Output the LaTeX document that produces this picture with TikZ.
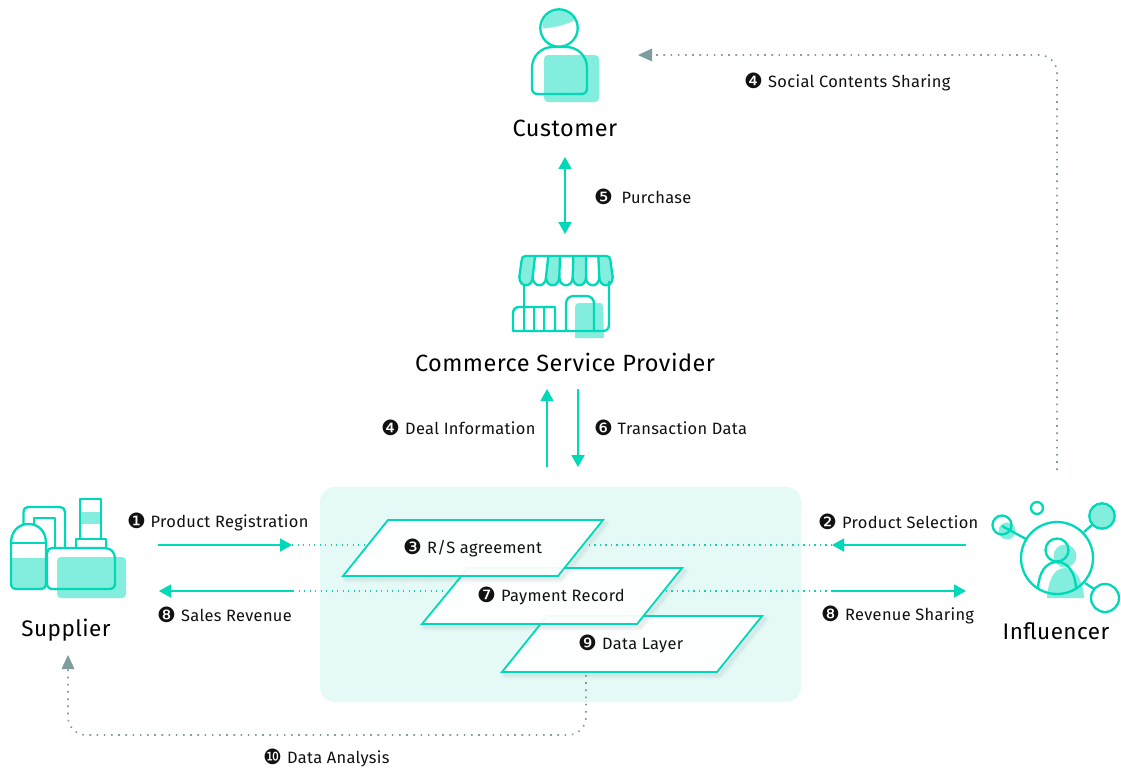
\documentclass[tikz,border=0pt]{standalone}
\usepackage{fontspec}
\setmainfont{Fira Sans}[LetterSpace=2]
\newfontfamily\dv{DejaVu Sans}
\usetikzlibrary{arrows.meta}
\definecolor{teal}{HTML}{00D9B8}
\definecolor{soft}{HTML}{84EEDE}
\definecolor{pale}{HTML}{E5FAF7}
\definecolor{gr}{HTML}{7E9E9E}
\definecolor{ink}{HTML}{111111}
\newcommand{\nm}[2][23]{\makebox[#1pt][l]{\hspace{-1pt}\dv\fontsize{21}{21}\selectfont\raisebox{-1pt}{#2}}}
\tikzset{
 x=1pt,y=-1pt,
 ico/.style={draw=teal,line width=2.3pt,line join=round},
 softf/.style={fill=soft,draw=none},
 lab/.style={anchor=west,inner sep=0pt,text=ink,font=\fontsize{16.4}{16.4}\selectfont},
 ttl/.style={inner sep=0pt,text=black,font=\fontsize{23.5}{23.5}\selectfont},
 ttls/.style={ttl,font=\fontsize{22.5}{22.5}\selectfont},
 flow/.style={draw=teal,line width=1.8pt},
 tip/.style={-{Triangle[length=12pt,width=13pt,fill=teal]}},
 tipb/.style={{Triangle[length=12pt,width=13pt,fill=teal]}-{Triangle[length=12pt,width=13pt,fill=teal]}},
 tdot/.style={draw=teal!80!gr,line width=1.1pt,dash pattern=on 1.1pt off 4.4pt},
 gdot/.style={draw=gr,line width=1.6pt,dash pattern=on 1.6pt off 5.6pt,rounded corners=18pt},
 gtip/.style={fill=gr,draw=none},
 plane/.style={draw=teal,line width=1.8pt,fill=white,fill opacity=.93,line join=miter},
}
\newcommand{\shad}[4]{%
 \foreach \w/\o in {8/.03,6/.04,4/.05,2/.06}{
  \draw[line width=\w pt,draw=gr,opacity=\o,line join=round,xshift=3pt,yshift=-3pt] #1 -- #2 -- #3 -- #4 -- cycle;}}
\begin{document}
\begin{tikzpicture}
\useasboundingbox (0,0) rectangle (1121,769);
\fill[white] (0,0) rectangle (1121,769);
\fill[pale,rounded corners=15pt] (320,487) rectangle (801,702);

% free ends of the connectors
\coordinate (c1) at (565,157); \coordinate (c2) at (565,234);
\coordinate (d1) at (547,467); \coordinate (d2) at (547,389);
\coordinate (t1) at (578,389); \coordinate (t2) at (578,467);
\coordinate (r1) at (158,545); \coordinate (r2) at (292,545); \coordinate (r3) at (365,545);
\coordinate (s1) at (966,545); \coordinate (s2) at (832,545); \coordinate (s3) at (588,545);
\coordinate (v1) at (293,591); \coordinate (v2) at (159,591); \coordinate (v3) at (445,591);
\coordinate (w1) at (832,591); \coordinate (w2) at (966,591); \coordinate (w3) at (665,591);
\coordinate (i1) at (1057,470); \coordinate (i2) at (1057,55); \coordinate (i3) at (652,55);
\coordinate (a1) at (586,675); \coordinate (a2) at (586,735); \coordinate (a3) at (68,735); \coordinate (a4) at (68,669);

% dotted lines
\draw[tdot] (r2) -- (r3);
\draw[tdot] (s2) -- (s3);
\draw[tdot] (v1) -- (v3);
\draw[tdot] (w1) -- (w3);
\draw[gdot] (i1) -- (i2) -- (i3);
\fill[gtip] (638,55) -- (652,48.5) -- (652,61.5) -- cycle;
\draw[gdot] (a1) -- (a2) -- (a3) -- (a4);
\fill[gtip] (68,655) -- (61.5,669) -- (74.5,669) -- cycle;

% solid arrows
\draw[flow,tipb] (c1) -- (c2);
\draw[flow,tip] (d1) -- (d2);
\draw[flow,tip] (t1) -- (t2);
\draw[flow,tip] (r1) -- (r2);
\draw[flow,tip] (s1) -- (s2);
\draw[flow,tip] (v1) -- (v2);
\draw[flow,tip] (w1) -- (w2);

% planes
\shad{(547,616)}{(762,616)}{(717,672)}{(502,672)}
\draw[plane] (547,616) -- (762,616) -- (717,672) -- (502,672) -- cycle;
\shad{(468,568)}{(682,568)}{(637,624)}{(422,624)}
\draw[plane] (468,568) -- (682,568) -- (637,624) -- (422,624) -- cycle;
\shad{(388,520)}{(603,520)}{(558,576)}{(343,576)}
\draw[plane] (388,520) -- (603,520) -- (558,576) -- (343,576) -- cycle;
\node[lab] (p1) at (404,547.5) {\nm{❸}R/S agreement};
\node[lab] (p2) at (478,595.5) {\nm{❼}Payment Record};
\node[lab] (p3) at (579,643.5) {\nm{❾}Data Layer};

% customer icon
\fill[softf,rounded corners=4pt] (544,55) rectangle (599,102);
\fill[soft] (542.6,28.5) .. controls (541,18) and (549,9.5) .. (559,9.3) .. controls (566,9.3) and (572,13) .. (574.5,20) .. controls (566,25) and (555,27.5) .. (542.6,28.5) -- cycle;
\draw[ico] (559,28) circle (18.7);
\draw[ico] (553,47) -- (566,47) .. controls (578,47) and (587,56) .. (587,68) -- (587,88) .. controls (587,92) and (585,94) .. (581,94) -- (538,94) .. controls (534,94) and (532,92) .. (532,88) -- (532,68) .. controls (532,56) and (541,47) .. (553,47) -- cycle;

% store icon
\fill[softf] (575,338) -- (575,307) .. controls (575,304.5) and (576.5,303) .. (579,303) -- (600,303) .. controls (602,303) and (603,304.5) .. (603,307) -- (604,338) -- cycle;
\foreach \a/\b/\c/\d in {521.7/535/532.7/519.3,548.3/560/559.3/546,573.3/586/586/572.7,598.3/610/612.7/599.3}{
 \fill[soft] (\a,256) -- (\b,256) -- (\c,277) .. controls (\c,288) and (\d,288) .. (\d,277) -- cycle;}
\draw[ico] (524,284) -- (524,331);
\draw[ico] (609,281) -- (609,324) .. controls (609,329) and (607,331) .. (602,331) -- (513,331) -- (513,314) .. controls (513,309) and (515,307) .. (520,307) -- (555,307) -- (555,331);
\draw[ico] (534,307) -- (534,331) (544,307) -- (544,331);
\draw[ico] (566,331) -- (566,304) .. controls (566,299) and (569,296) .. (574,296) -- (586,296) .. controls (591,296) and (594,299) .. (594,304) -- (594,331);
\draw[ico] (519.3,277) -- (521.7,260) .. controls (522,257) and (523,256) .. (526,256) -- (606,256) .. controls (609,256) and (610,257) .. (610.3,260) -- (612.7,277)
 .. controls (612.7,288) and (599.3,288) .. (599.3,277)
 .. controls (599.3,288) and (586,288) .. (586,277)
 .. controls (586,288) and (572.7,288) .. (572.7,277)
 .. controls (572.7,288) and (559.3,288) .. (559.3,277)
 .. controls (559.3,288) and (546,288) .. (546,277)
 .. controls (546,288) and (532.7,288) .. (532.7,277)
 .. controls (532.7,288) and (519.3,288) .. (519.3,277) -- cycle;
\draw[ico] (535,256) -- (532.7,277) (548.3,256) -- (546,277) (560,256) -- (559.3,277) (573.3,256) -- (572.7,277) (586,256) -- (586,277) (598.3,256) -- (599.3,277);

% supplier icon
\fill[softf,rounded corners=4pt] (57,557) rectangle (126,598);
\fill[softf] (11,558) rectangle (46,586);
\fill[softf] (14,586) rectangle (44,589);
\fill[softf] (81,512) rectangle (100,524);
\draw[ico] (11,543) -- (46,543);
\draw[ico] (11,543) .. controls (11,532) and (18,524) .. (28.5,524) .. controls (39,524) and (46,532) .. (46,543) -- (46,583) .. controls (46,587) and (44,589) .. (40,589) -- (17,589) .. controls (13,589) and (11,587) .. (11,583) -- cycle;
\draw[ico] (47,553) .. controls (47,550) and (49,548) .. (52,548) -- (104,548) .. controls (111,548) and (115,552) .. (115,559) -- (115,583) .. controls (115,587) and (113,589) .. (109,589) -- (53,589) .. controls (49,589) and (47,587) .. (47,583) -- cycle;
\draw[ico] (80,539) -- (80,499) -- (101,499) -- (101,539);
\draw[ico] (76,548) -- (76,539) -- (106,539) -- (106,548);
\draw[ico] (23.5,525) -- (23.5,512) .. controls (23.5,509) and (25,507) .. (28,507) -- (60,507) .. controls (63,507) and (65,509) .. (65,512) -- (65,548);
\draw[ico] (34,525) -- (34,518) -- (55,518) -- (55,548);

% influencer icon
\fill[softf] (1065,556) circle (11.5);
\fill[softf] (1047,598) .. controls (1048,582) and (1053,568) .. (1065,568) .. controls (1077,568) and (1083,582) .. (1084,598) -- cycle;
\fill[softf] (1102,516) circle (12.7);
\fill[softf] (1007,531) circle (8.5);
\draw[ico] (1057,558) circle (36);
\draw[ico] (1057,550) circle (11.5);
\draw[ico] (1038,588) .. controls (1039,572) and (1046,562) .. (1057,562) .. controls (1068,562) and (1075,572) .. (1076,588);
\draw[ico] (1102,516) circle (12.7);
\draw[ico] (1084,532) -- (1093,524);
\draw[ico] (1105,598) circle (14);
\draw[ico] (1085,583) -- (1094,589);
\draw[ico] (1037,508) circle (6);
\draw[ico] (1002,525) circle (9.5);
\draw[ico] (1002,526) -- (1026,539);

% titles
\node[ttl] (cust) at (565,128) {Customer};
\node[ttl] (csp) at (565,362) {Commerce Service Provider};
\node[ttls] (sup) at (66,630) {Supplier};
\node[ttls] (inf) at (1056,631) {Influencer};

% labels
\node[lab] (l1) at (745,81.5) {\nm{❹}Social Contents Sharing};
\node[lab] (l2) at (595,196.5) {\nm[26.5]{❺}Purchase};
\node[lab] (l3) at (382,427.5) {\nm{❹}Deal Information};
\node[lab] (l4) at (595,427.5) {\nm[22.5]{❻}Transaction Data};
\node[lab] (l5) at (128,521.5) {\nm[22.5]{❶}Product Registration};
\node[lab] (l6) at (819,521.5) {\nm{❷}Product Selection};
\node[lab] (l7) at (158,615) {\nm{❽}Sales Revenue};
\node[lab] (l8) at (822,615) {\nm{❽}Revenue Sharing};
\node[lab] (l9) at (264,757.5) {\nm{❿}Data Analysis};
\end{tikzpicture}
\end{document}
